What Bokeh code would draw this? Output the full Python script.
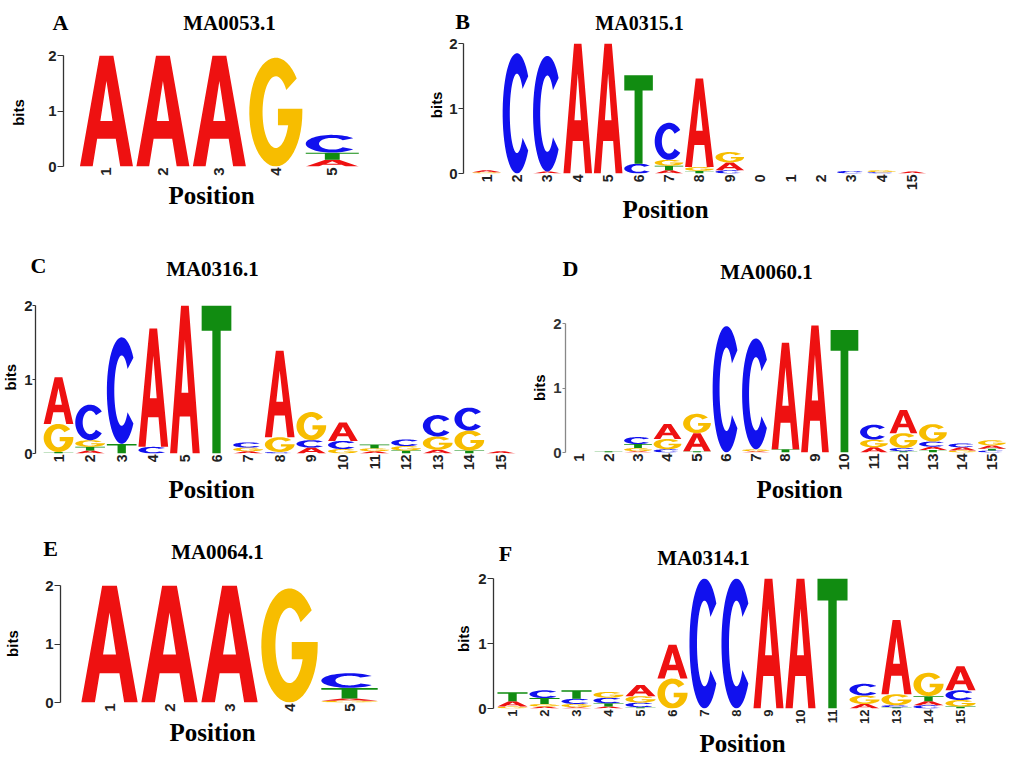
import math
import numpy as np
from bokeh.plotting import figure
from bokeh.models import Range1d, FixedTicker, Label, ColumnDataSource
from bokeh.layouts import column, row
from bokeh.embed import file_html
from bokeh.resources import INLINE

# ---------------- data (information content, bits) ----------------
LETTERS = ["A", "C", "G", "T"]
COLORS = {"A": "#ee1111", "C": "#1111ee", "G": "#f7bd00", "T": "#118c11"}

a_A = [2.0, 2.0, 2.0, 0.0, 0.12]
a_C = [0.0, 0.0, 0.0, 0.0, 0.32]
a_G = [0.0, 0.0, 0.0, 1.96, 0.0]
a_T = [0.0, 0.0, 0.0, 0.0, 0.13]

b_A = [0.03, 0, 0.03, 2.0, 2.0, 0, 0.05, 1.36, 0.12, 0, 0, 0, 0, 0, 0.03]
b_C = [0, 1.85, 1.78, 0, 0, 0.15, 0.57, 0, 0.05, 0, 0, 0, 0.04, 0.02, 0]
b_G = [0.02, 0, 0, 0, 0, 0, 0.09, 0.06, 0.16, 0, 0, 0, 0, 0.03, 0]
b_T = [0, 0, 0, 0, 0, 1.36, 0.07, 0.04, 0, 0, 0, 0, 0, 0, 0]

c_A = [0.63, 0.04, 0, 1.6, 2.0, 0, 0.03, 1.17, 0.08, 0.25, 0.03, 0, 0.05, 0, 0.03]
c_C = [0, 0.48, 1.44, 0.09, 0, 0, 0.07, 0.02, 0.10, 0.11, 0, 0.09, 0.29, 0.31, 0]
c_G = [0.38, 0.09, 0, 0, 0, 0, 0.05, 0.20, 0.38, 0.06, 0.04, 0.06, 0.18, 0.27, 0]
c_T = [0.02, 0.05, 0.13, 0, 0, 2.0, 0, 0, 0, 0, 0.05, 0.04, 0, 0.04, 0]

d_A = [0, 0, 0.02, 0.23, 0.28, 0, 0.02, 1.65, 1.97, 0, 0.08, 0.36, 0.05, 0.05, 0.05]
d_C = [0, 0, 0.11, 0.05, 0, 1.96, 1.72, 0, 0, 0, 0.23, 0.05, 0.08, 0.06, 0.03]
d_G = [0, 0, 0.05, 0.16, 0.30, 0, 0.03, 0, 0, 0, 0.12, 0.23, 0.27, 0.03, 0.08]
d_T = [0, 0.02, 0.06, 0, 0.02, 0, 0, 0.05, 0, 1.9, 0, 0.02, 0.04, 0, 0.03]

e_A = [2.0, 2.0, 2.0, 0.0, 0.04]
e_C = [0.0, 0.0, 0.0, 0.0, 0.25]
e_G = [0.0, 0.0, 0.0, 1.95, 0.03]
e_T = [0.0, 0.0, 0.0, 0.0, 0.18]

f_A = [0.08, 0.03, 0.02, 0.03, 0.17, 0.52, 0, 0, 2.0, 2.0, 0, 0.07, 1.14, 0.06, 0.37]
f_C = [0, 0.12, 0.08, 0.085, 0.07, 0, 2.0, 2.0, 0, 0, 0, 0.18, 0.03, 0.05, 0.15]
f_G = [0.03, 0.04, 0.05, 0.09, 0.10, 0.46, 0, 0, 0, 0, 0, 0.13, 0.17, 0.36, 0.10]
f_T = [0.14, 0.09, 0.13, 0.05, 0.02, 0, 0, 0, 0, 0, 2.0, 0, 0.02, 0.08, 0.03]

y_ticks = [0, 1, 2]
b_tick_text = {10: "0", 11: "1", 12: "2", 13: "3", 14: "4"}

# ---------------- letter outlines in a unit box ----------------
def arc(cx, cy, rx, ry, a0, a1, n=48):
    t = np.radians(np.linspace(a0, a1, n))
    return list(cx + rx * np.cos(t)), list(cy + ry * np.sin(t))


def unit_shape(letter):
    if letter == "A":
        outer = [(0, 0), (0.37, 1), (0.63, 1), (1, 0), (0.76, 0), (0.675, 0.25),
                 (0.325, 0.25), (0.24, 0)]
        hole = [(0.385, 0.41), (0.5, 0.77), (0.615, 0.41)]
        return [outer, hole]
    if letter == "T":
        return [[(0, 1), (1, 1), (1, 0.83), (0.64, 0.83), (0.64, 0), (0.36, 0),
                 (0.36, 0.83), (0, 0.83)]]
    if letter == "C":
        ox, oy = arc(0.5, 0.5, 0.5, 0.5, 38, 322)
        ix, iy = arc(0.5, 0.5, 0.25, 0.33, 322, 38)
        return [list(zip(ox + ix, oy + iy))]
    ox, oy = arc(0.5, 0.5, 0.5, 0.5, 38, 360)
    th = -math.degrees(math.asin(0.12 / 0.33))
    ix, iy = arc(0.5, 0.5, 0.25, 0.33, 360 + th, 38)
    pts = list(zip(ox, oy)) + [(1.0, 0.53), (0.54, 0.53), (0.54, 0.38)] + list(zip(ix, iy))
    return [pts]


SHAPES = {L: unit_shape(L) for L in LETTERS}
PAD = 0.03


def logo_source(hA, hC, hG, hT):
    xs, ys, cols = [], [], []
    heights = {"A": hA, "C": hC, "G": hG, "T": hT}
    for i in range(len(hA)):
        pos = i + 1
        stack = sorted([(heights[L][i], L) for L in LETTERS if heights[L][i] > 0])
        y0 = 0.0
        for h, L in stack:
            rx, ry = [], []
            for ring in SHAPES[L]:
                rx.append([pos - 0.5 + PAD + u * (1 - 2 * PAD) for u, v in ring])
                ry.append([y0 + v * h for u, v in ring])
            xs.append([rx])
            ys.append([ry])
            cols.append(COLORS[L])
            y0 += h
    return ColumnDataSource(dict(xs=xs, ys=ys, color=cols))


SERIF = "Liberation Serif"
SANS = "Liberation Sans"


def text_fig(x0, x1, y0, y1, items):
    """A plain canvas in page pixel coordinates holding text labels."""
    p = figure(width=x1 - x0, height=y1 - y0, x_range=Range1d(x0, x1),
               y_range=Range1d(y1, y0), min_border=0, x_axis_location=None,
               y_axis_location=None, toolbar_location=None, output_backend="svg")
    p.outline_line_color = None
    p.grid.visible = False
    for (txt, x, y, size, font, angle) in items:
        p.add_layout(Label(x=x, y=y, text=txt, text_font=font, text_font_style="bold",
                           text_font_size=size, text_color="black", angle=angle,
                           text_align="center", text_baseline="middle"))
    return p


def main_fig(hA, hC, hG, hT, g):
    n = len(hA)
    p = figure(frame_width=g["fw"], frame_height=g["fh"],
               min_border_left=g["mbl"], min_border_right=g["mbr"],
               min_border_top=g["mbt"], min_border_bottom=g["mbb"],
               x_range=Range1d(g["x0"], g["x1"]), y_range=Range1d(0, 2),
               output_backend="svg", toolbar_location=None)
    p.xgrid.visible = False
    p.ygrid.visible = False
    p.outline_line_color = None

    p.multi_polygons(xs="xs", ys="ys", source=logo_source(hA, hC, hG, hT),
                     fill_color="color", line_color=None)

    ax = p.yaxis[0]
    ax.ticker = FixedTicker(ticks=y_ticks)
    ax.minor_tick_line_color = None
    ax.major_tick_in = 0
    ax.major_tick_out = g.get("tick", 6)
    ax.axis_line_color = g.get("axc", "#333333")
    ax.major_tick_line_color = g.get("axc", "#333333")
    ax.axis_line_width = 1.3
    ax.major_label_standoff = g.get("yso", 1)
    ax.major_label_text_font = SANS
    ax.major_label_text_font_style = "bold"
    ax.major_label_text_font_size = "15px"
    ax.major_label_text_color = g.get("labc", "#222222")

    bx = p.xaxis[0]
    bx.ticker = FixedTicker(ticks=list(range(1, n + 1)))
    bx.axis_line_color = None
    bx.major_tick_line_color = None
    bx.minor_tick_line_color = None
    bx.major_tick_out = 0
    bx.major_tick_in = 0
    bx.major_label_standoff = 1
    bx.major_label_orientation = math.pi / 2
    bx.major_label_text_font = SANS
    bx.major_label_text_font_style = "bold"
    bx.major_label_text_font_size = g.get("xfs", "15px")
    bx.major_label_text_color = "#222222"
    if g.get("overrides"):
        bx.major_label_overrides = g["overrides"]
    return p


def panel(hA, hC, hG, hT, letter, title, g):
    X0, X1, Y0, Y1 = g["X0"], g["X1"], g["Y0"], g["Y1"]
    T, Wb = g["T"], g["Wb"]
    M = g["mbt"] + g["fh"] + g["mbb"]
    g["mbr"] = (X1 - X0 - Wb) - g["mbl"] - g["fw"]
    top = text_fig(X0, X1, Y0, Y0 + T, [
        (letter, g["let"][0], g["let"][1], "22px", SERIF, 0.0),
        (title, g["tit"][0], g["tit"][1], g.get("tfs", "21px"), SERIF, 0.0),
    ])
    bits = text_fig(X0, X0 + Wb, Y0 + T, Y0 + T + M, [
        ("bits", g["bits"][0], g["bits"][1], "15px", SANS, math.pi / 2),
    ])
    bottom = text_fig(X0, X1, Y0 + T + M, Y1, [
        ("Position", g["pos"][0], g["pos"][1], "25px", SERIF, 0.0),
    ])
    return column(top, row(bits, main_fig(hA, hC, hG, hT, g)), bottom)


# page-pixel geometry of each panel (top text band, axis row, bottom text band)
gA = dict(X0=0, X1=420, Y0=0, Y1=240, T=35, Wb=42,
          fw=297, fh=111, mbl=21, mbt=20, mbb=15, x0=0.239, x1=5.5,
          let=(60, 22), tit=(229, 22), pos=(211, 195), bits=(18, 110))
gB = dict(X0=420, X1=1024, Y0=0, Y1=240, T=34, Wb=24,
          fw=467, fh=130, mbl=19, mbt=9, mbb=22, x0=0.243, x1=15.6, tick=5,
          let=(462, 21), tit=(639, 22), pos=(665, 209), bits=(435.5, 110),
          xfs="14px", overrides=b_tick_text, tfs="20px")
gC = dict(X0=0, X1=525, Y0=240, Y1=520, T=45, Wb=18,
          fw=485, fh=148, mbl=17, mbt=20, mbb=22, x0=0.272, x1=15.62, tick=3, yso=0,
          xfs="14px",
          let=(38, 265), tit=(212, 268), pos=(211, 489), bits=(9.5, 377))
gD = dict(X0=525, X1=1024, Y0=240, Y1=520, T=60, Wb=22,
          fw=445, fh=129, mbl=18, mbt=23, mbb=23, x0=0.542, x1=15.63, tick=3,
          axc="#888888", labc="#333333",
          let=(570, 268), tit=(766, 271), pos=(799, 489), bits=(538.5, 387))
gE = dict(X0=0, X1=450, Y0=520, Y1=757, T=48, Wb=39,
          fw=322, fh=117, mbl=21, mbt=17, mbb=15, x0=0.183, x1=5.55,
          let=(50, 548), tit=(217, 551), pos=(212, 732), bits=(12, 642))
gF = dict(X0=450, X1=1024, Y0=520, Y1=757, T=49, Wb=22,
          fw=487, fh=130, mbl=21, mbt=9, mbb=21, x0=0.406, x1=15.625,
          xfs="13px",
          let=(505, 553), tit=(703, 557), pos=(742, 743), bits=(462.5, 643))

pA = panel(a_A, a_C, a_G, a_T, "A", "MA0053.1", gA)
pB = panel(b_A, b_C, b_G, b_T, "B", "MA0315.1", gB)
pC = panel(c_A, c_C, c_G, c_T, "C", "MA0316.1", gC)
pD = panel(d_A, d_C, d_G, d_T, "D", "MA0060.1", gD)
pE = panel(e_A, e_C, e_G, e_T, "E", "MA0064.1", gE)
pF = panel(f_A, f_C, f_G, f_T, "F", "MA0314.1", gF)

layout = column(row(pA, pB), row(pC, pD), row(pE, pF))
open("out.html", "w").write(file_html(layout, INLINE))
